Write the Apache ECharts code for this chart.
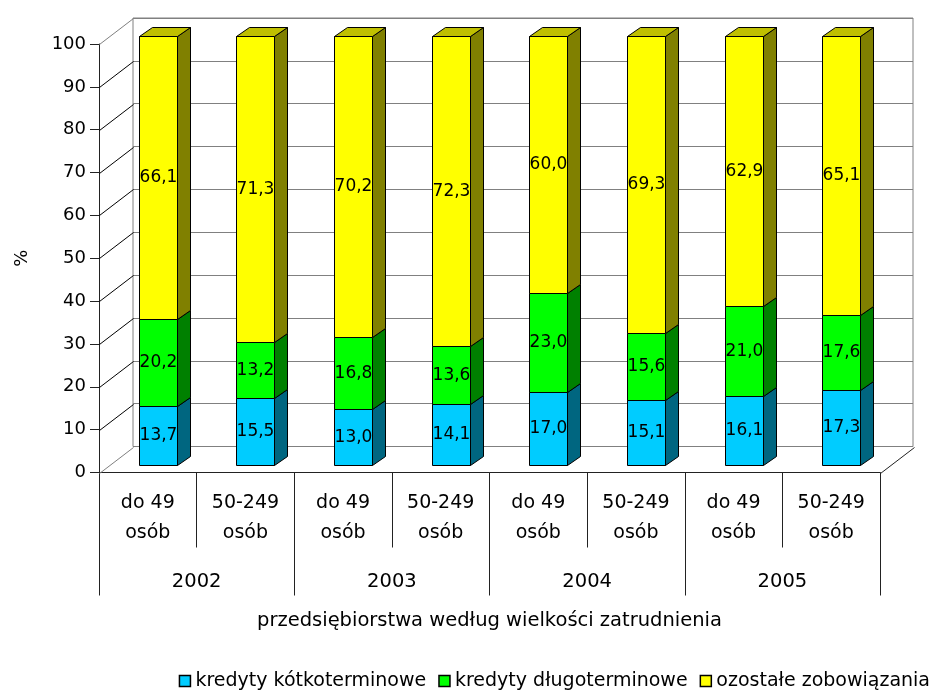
<!DOCTYPE html>
<html>
<head>
<meta charset="utf-8">
<script src="https://cdn.jsdelivr.net/npm/echarts@6/dist/echarts.min.js"></script>
<style>
  html, body { margin: 0; padding: 0; background: #fff; }
  #chart { width: 941px; height: 693px; }
</style>
</head>
<body>
<div id="chart"></div>
<script>
// Structure of liabilities of enterprises by employment size, 2002-2005 (%)
const years = ['2002', '2003', '2004', '2005'];
const sizeClasses = ['do 49 osób', '50-249 osób'];
const categories = years.flatMap(y => sizeClasses.map(s => y + '|' + s));

const seriesNames = ['kredyty kótkoterminowe', 'kredyty długoterminowe', 'ozostałe zobowiązania'];
const shortTerm = [13.7, 15.5, 13.0, 14.1, 17.0, 15.1, 16.1, 17.3];
const longTerm  = [20.2, 13.2, 16.8, 13.6, 23.0, 15.6, 21.0, 17.6];
const otherLiab = [66.1, 71.3, 70.2, 72.3, 60.0, 69.3, 62.9, 65.1];
const sideWallTicks = [0, 10, 20, 30, 40, 50, 60, 70, 80, 90, 100];

// face colours: front / side / top
const faces = [
  { front: '#00CCFF', side: '#006680', top: '#0099C0' },
  { front: '#00FF00', side: '#008000', top: '#00C000' },
  { front: '#FFFF00', side: '#808000', top: '#C0C000' }
];

const FONT = 'DejaVu Sans';
const DEPTH = { x: 34, y: -26 };      // back wall offset from the front plane
const BAR_SHIFT = { x: 10, y: -8 };   // bar front face behind the front plane
const BAR_DEPTH = { x: 13, y: -9 };   // bar thickness
const BAR_RATIO = 0.39;

const crisp = v => Math.round(v) + 0.5;
const fmt = v => v.toFixed(1).replace('.', ',');

function stackedData(values, below) {
  return values.map((v, i) => [i, below.reduce((s, arr) => s + arr[i], 0), v]);
}

function barRenderer(faceIdx, isTop) {
  const c = faces[faceIdx];
  return function (params, api) {
    const i = api.value(0), base = api.value(1), v = api.value(2);
    const pB = api.coord([i, base]);
    const pT = api.coord([i, base + v]);
    const w = Math.round(api.size([1, 0])[0] * BAR_RATIO);
    const xl = crisp(pB[0] - w / 2 + BAR_SHIFT.x);
    const xr = xl + w;
    const yb = crisp(pB[1] + BAR_SHIFT.y);
    const yt = crisp(pT[1] + BAR_SHIFT.y);
    const dx = BAR_DEPTH.x, dy = BAR_DEPTH.y;
    const children = [
      { type: 'polygon', shape: { points: [[xr, yt], [xr + dx, yt + dy], [xr + dx, yb + dy], [xr, yb]] },
        style: { fill: c.side, stroke: '#000', lineWidth: 1 } },
      { type: 'rect', shape: { x: xl, y: yt, width: w, height: yb - yt },
        style: { fill: c.front, stroke: '#000', lineWidth: 1 } }
    ];
    if (isTop) {
      children.push({ type: 'polygon', shape: { points: [[xl, yt], [xl + dx, yt + dy], [xr + dx, yt + dy], [xr, yt]] },
        style: { fill: c.top, stroke: '#000', lineWidth: 1 } });
    }
    children.push({ type: 'text', z2: 10,
      style: { text: fmt(v), x: (xl + xr) / 2, y: (yt + yb) / 2, align: 'center', verticalAlign: 'middle',
               fill: '#000', font: '17px "' + FONT + '"' } });
    return { type: 'group', children };
  };
}

function sideWallRenderer(params, api) {
  const v = api.value(1);
  const cs = params.coordSys;
  const y = crisp(api.coord([0, v])[1]);
  const x0 = crisp(cs.x);
  const edge = (v === 0 || v === 100);
  const children = [{
    type: 'line',
    shape: { x1: x0, y1: y, x2: x0 + DEPTH.x, y2: y + DEPTH.y },
    style: { stroke: edge ? '#808080' : '#000', lineWidth: 1 }
  }];
  if (v === 0) {
    const xr = crisp(cs.x + cs.width);
    children.push({ type: 'line', shape: { x1: xr, y1: y, x2: xr + DEPTH.x, y2: y + DEPTH.y },
      style: { stroke: '#222', lineWidth: 1 } });
  }
  return { type: 'group', children };
}

const chart = echarts.init(document.getElementById('chart'), null, { renderer: 'canvas' });

const numText = { fontFamily: FONT, fontSize: 18, color: '#000' };
const wordText = { fontFamily: FONT, fontSize: 19, color: '#000' };

chart.setOption({
  animation: false,
  backgroundColor: '#fff',
  grid: [
    // front plane
    { left: 99, right: 61, top: 44, bottom: 220.5 },
    // back wall
    { left: 133, right: 28, top: 18, bottom: 246.5, show: true, borderColor: '#808080', borderWidth: 1, backgroundColor: 'transparent' }
  ],
  xAxis: [
    { type: 'category', gridIndex: 0, position: 'bottom', data: categories, boundaryGap: true,
      axisLine: { show: true, lineStyle: { color: '#222', width: 1 } },
      axisTick: { show: true, interval: 0, length: 75, lineStyle: { color: '#222' } },
      axisLabel: { interval: 0, margin: 16, lineHeight: 30, ...wordText,
        formatter: val => val.split('|')[1].replace(' osób', '\nosób') } },
    { type: 'category', gridIndex: 0, position: 'bottom', data: years, boundaryGap: true,
      axisLine: { show: false },
      axisTick: { show: true, interval: 0, length: 123, lineStyle: { color: '#222' } },
      axisLabel: { interval: 0, margin: 99, lineHeight: 20, ...wordText, fontSize: 19.5 },
      name: 'przedsiębiorstwa według wielkości zatrudnienia', nameLocation: 'middle', nameGap: 138,
      nameTextStyle: { ...wordText, fontSize: 19.5, lineHeight: 20 } },
    { type: 'category', gridIndex: 1, data: categories, show: false }
  ],
  yAxis: [
    { type: 'value', gridIndex: 0, min: 0, max: 100, interval: 10,
      axisLine: { show: true, lineStyle: { color: '#222', width: 1 } },
      axisTick: { show: true, length: 9, lineStyle: { color: '#222' } },
      axisLabel: { margin: 13, ...numText },
      splitLine: { show: false },
      name: '%', nameLocation: 'middle', nameGap: 68, nameRotate: 90,
      nameTextStyle: { ...numText } },
    { type: 'value', gridIndex: 1, min: 0, max: 100, interval: 10,
      axisLine: { show: false }, axisTick: { show: false }, axisLabel: { show: false },
      splitLine: { show: true, lineStyle: { color: '#808080', width: 1 } } }
  ],
  legend: {
    right: 6, top: 666, itemWidth: 11, itemHeight: 11, itemGap: 12, icon: 'rect',
    textStyle: { ...wordText, lineHeight: 20 },
    data: seriesNames.map((n, k) => ({ name: n, itemStyle: { color: faces[k].front, borderColor: '#000', borderWidth: 1.5 } }))
  },
  series: [
    { type: 'custom', name: 'side-wall', xAxisIndex: 0, yAxisIndex: 0, clip: false, silent: true, z: 1,
      renderItem: sideWallRenderer, data: sideWallTicks.map(t => [0, t]) },
    { type: 'custom', name: seriesNames[0], xAxisIndex: 0, yAxisIndex: 0, clip: false, z: 3,
      itemStyle: { color: faces[0].front },
      renderItem: barRenderer(0, false), data: stackedData(shortTerm, []) },
    { type: 'custom', name: seriesNames[1], xAxisIndex: 0, yAxisIndex: 0, clip: false, z: 4,
      itemStyle: { color: faces[1].front },
      renderItem: barRenderer(1, false), data: stackedData(longTerm, [shortTerm]) },
    { type: 'custom', name: seriesNames[2], xAxisIndex: 0, yAxisIndex: 0, clip: false, z: 5,
      itemStyle: { color: faces[2].front },
      renderItem: barRenderer(2, true), data: stackedData(otherLiab, [shortTerm, longTerm]) }
  ]
});
</script>
</body>
</html>
